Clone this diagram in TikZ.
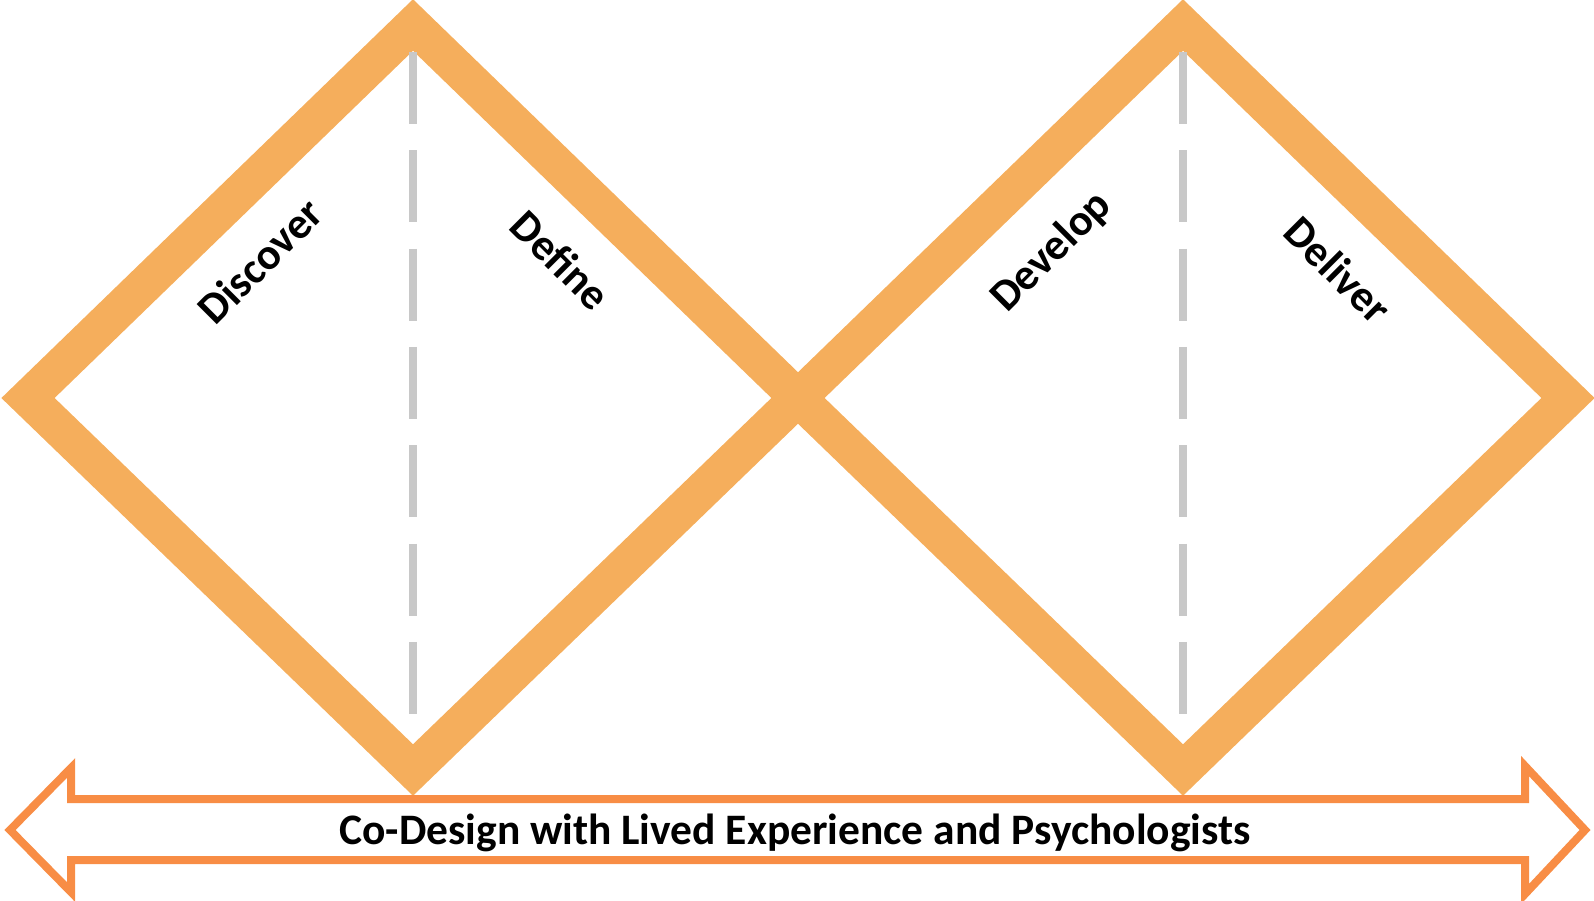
\documentclass[tikz,border=0pt]{standalone}
\usepackage{fontspec}
\setmainfont{Carlito}
\usepackage{xcolor}
\usetikzlibrary{positioning}

\definecolor{diamondorange}{RGB}{245,174,92}
\definecolor{arroworange}{RGB}{248,141,69}
\definecolor{dashgray}{RGB}{200,200,200}

\tikzset{
  diamondline/.style={draw=diamondorange, line width=37pt, miter limit=10},
  midline/.style={draw=dashgray, line width=8pt, dash pattern=on 72pt off 26.3pt},
  bandline/.style={draw=arroworange, fill=white, line width=8pt, miter limit=10},
  phase/.style={font=\bfseries\fontsize{44}{44}\selectfont, inner sep=0pt},
  bandtext/.style={font=\bfseries\fontsize{43.5}{43.5}\selectfont, inner sep=0pt}
}

\begin{document}
\begin{tikzpicture}[x=1pt,y=-1pt]
\useasboundingbox (0,0) rectangle (1594,900);

\foreach \cx in {413,1183}{
  \draw[diamondline] (\cx,25) -- (\cx+385,398) -- (\cx,770) -- (\cx-385,398) -- cycle;
  \draw[midline] (\cx,52) -- (\cx,716);
}

% phases
\node[phase, rotate=45]  (discover) at (260,261)  {Discover};
\node[phase, rotate=-45] (define)   at (561,260)  {Define};
\node[phase, rotate=45]  (develop)  at (1052,252) {Develop};
\node[phase, rotate=-45] (deliver)  at (1338,270) {Deliver};

% double arrow
\draw[bandline] (10,830) -- (71,768) -- (71,799) -- (1525,799) -- (1525,766)
  -- (1585,830) -- (1525,894) -- (1525,860) -- (71,860) -- (71,892) -- cycle;
\node[bandtext, anchor=base] (codesign) at (795,844)
  {Co-Design with Lived Experience and Psychologists};
\end{tikzpicture}
\end{document}
